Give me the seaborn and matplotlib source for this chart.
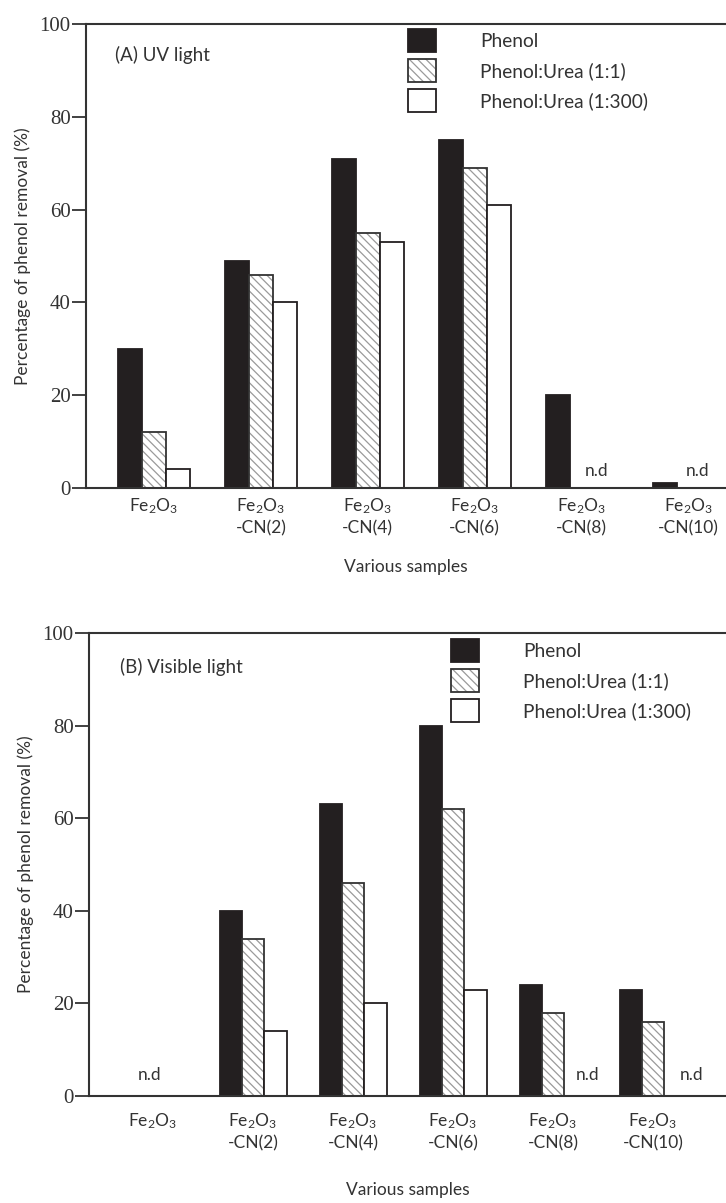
import numpy as np
import pandas as pd
import matplotlib
matplotlib.use("Agg")
import matplotlib.pyplot as plt
import matplotlib.colors as mcolors
import seaborn as sns

# ---------------- data ----------------
samples = ["Fe2O3", "Fe2O3-CN(2)", "Fe2O3-CN(4)", "Fe2O3-CN(6)", "Fe2O3-CN(8)", "Fe2O3-CN(10)"]
tick_labels = ["Fe$_2$O$_3$", "Fe$_2$O$_3$\n-CN(2)", "Fe$_2$O$_3$\n-CN(4)",
               "Fe$_2$O$_3$\n-CN(6)", "Fe$_2$O$_3$\n-CN(8)", "Fe$_2$O$_3$\n-CN(10)"]
series = ["Phenol", "Phenol:Urea (1:1)", "Phenol:Urea (1:300)"]

uv_phenol = [30, 49, 71, 75, 20, 1]
uv_urea_1_1 = [12, 46, 55, 69, np.nan, np.nan]
uv_urea_1_300 = [4, 40, 53, 61, np.nan, np.nan]
uv_nd = [4, 5]  # categories with n.d

vis_phenol = [np.nan, 40, 63, 80, 24, 23]
vis_urea_1_1 = [np.nan, 34, 46, 62, 18, 16]
vis_urea_1_300 = [np.nan, 14, 20, 23, np.nan, np.nan]
vis_nd = [0, 4, 5]

yticks = [0, 20, 40, 60, 80, 100]

# ---------------- style ----------------
sns.set_theme(style="white")
plt.rcParams["font.family"] = ["Lato", "DejaVu Sans"]
plt.rcParams["mathtext.fontset"] = "custom"
plt.rcParams["mathtext.rm"] = "Lato"
plt.rcParams["mathtext.it"] = "Lato:italic"
plt.rcParams["mathtext.bf"] = "Lato:bold"
plt.rcParams["hatch.linewidth"] = 0.9

BLACK = "#231f20"
SPINE = "#333333"
TXT = "#333333"
HATCH_COL = "#9a9a9a"
HATCH = "\\\\\\\\"

fig = plt.figure(figsize=(7.26, 12.03), dpi=100)
W, H = 726, 1203


def grey_hatch(p):
    p.set_hatch(HATCH)
    p.set_edgecolor("#333333")
    if hasattr(p, "set_hatchcolor"):
        p.set_hatchcolor(HATCH_COL)
    else:
        p._hatch_color = mcolors.to_rgba(HATCH_COL)


def make_df(a, b, c):
    rows = []
    for s, vals in zip(series, [a, b, c]):
        for smp, v in zip(samples, vals):
            rows.append({"sample": smp, "series": s, "value": v})
    return pd.DataFrame(rows)


def draw(ax, df, nd_cats, nd_off, nd_y, xlim, panel_text, panel_xy, legend_xy, tick_pad, labelpad):
    sns.barplot(data=df, x="sample", y="value", hue="series", order=samples,
                hue_order=series, palette=[BLACK, "white", "white"], width=0.67,
                edgecolor=BLACK, linewidth=1.3, saturation=1, legend=False,
                errorbar=None, ax=ax)
    for i, cont in enumerate(ax.containers):
        for p in cont.patches:
            if i == 1:
                grey_hatch(p)
    ax.set_xlim(*xlim)
    ax.set_ylim(0, 100)
    ax.set_yticks(yticks)
    ax.set_yticklabels([str(t) for t in yticks], fontfamily="Liberation Serif",
                       fontsize=15, color=TXT)
    ax.set_xticks(range(len(samples)))
    ax.set_xticklabels(tick_labels, fontsize=12.5, color=TXT, linespacing=1.35)
    ax.tick_params(axis="x", length=0, pad=tick_pad)
    ax.tick_params(axis="y", length=10, width=1.3, color=SPINE, pad=1, left=True, direction="out")
    for s in ["left", "bottom", "top"]:
        ax.spines[s].set_visible(True)
        ax.spines[s].set_color(SPINE)
        ax.spines[s].set_linewidth(1.5)
    ax.spines["right"].set_visible(False)
    ax.set_xlabel("Various samples", fontsize=12.5, color=TXT, labelpad=labelpad)
    ax.set_ylabel("Percentage of phenol removal (%)", fontsize=12.5, color=TXT, labelpad=6)
    for c, off in zip(nd_cats, nd_off):
        ax.text(c + off, nd_y, "n.d", ha="center", va="center", fontsize=12.5, color=TXT)
    ax.text(panel_xy[0], panel_xy[1], panel_text, transform=fig.transFigure,
            ha="left", va="center", fontsize=13.5, color=TXT)
    handles = [plt.Rectangle((0, 0), 1, 1, facecolor=BLACK, edgecolor=BLACK, linewidth=1.3),
               plt.Rectangle((0, 0), 1, 1, facecolor="white", linewidth=1.3),
               plt.Rectangle((0, 0), 1, 1, facecolor="white", edgecolor=BLACK, linewidth=1.3)]
    grey_hatch(handles[1])
    fs = 13.8
    ax.legend(handles, series, loc="upper left", bbox_to_anchor=legend_xy,
              bbox_transform=fig.transFigure, frameon=False, fontsize=fs,
              handlelength=20 / fs, handleheight=20 / fs, labelspacing=5.2 / fs,
              handletextpad=32 / fs, borderpad=0, borderaxespad=0, labelcolor=TXT)


# top panel
ax1 = fig.add_axes([86 / W, 1 - 488 / H, 1 - 86 / W, (488 - 24) / H])
draw(ax1, make_df(uv_phenol, uv_urea_1_1, uv_urea_1_300), uv_nd, [0.14, 0.08], 3.6,
     (-0.635, 5.35), "(A) UV light", (115 / W, 1 - 55 / H), (408 / W, 1 - 29 / H), 6, 16)

# bottom panel
ax2 = fig.add_axes([89 / W, 1 - 1096 / H, 1 - 89 / W, (1096 - 633) / H])
draw(ax2, make_df(vis_phenol, vis_urea_1_1, vis_urea_1_300), vis_nd, [-0.03, 0.35, 0.39], 4.5,
     (-0.64, 5.73), "(B) Visible light", (120 / W, 1 - 667 / H), (451 / W, 1 - 639 / H), 11, 22)

fig.savefig("out.png", dpi=100)
